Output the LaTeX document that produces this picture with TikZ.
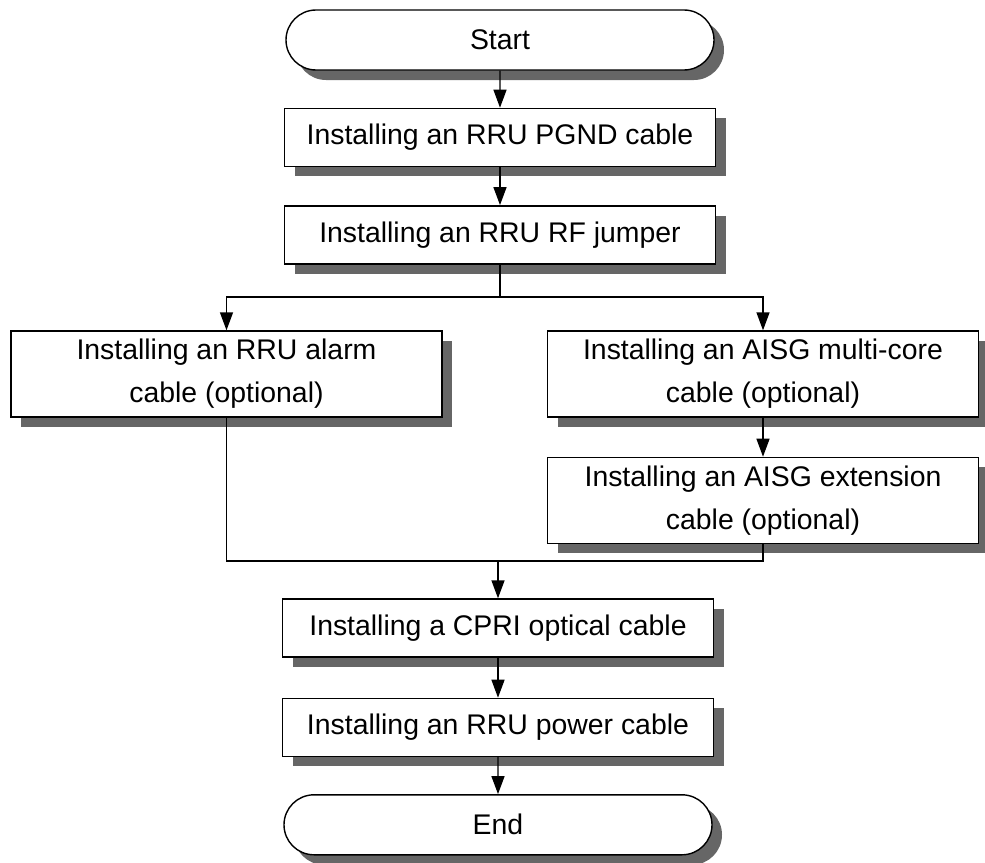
\documentclass[tikz,border=0pt]{standalone}
\usepackage{fontspec}
\setmainfont{Liberation Sans}
\usepackage{xcolor}
\usepackage{tikz}
\usetikzlibrary{shapes.misc,arrows.meta,positioning,calc,shadows}
\definecolor{shadowGray}{RGB}{102,102,102}

\tikzset{
    boxshadow/.style={drop shadow={shadow xshift=5pt, shadow yshift=-5pt, fill=shadowGray, opacity=1}},
    process/.style={rectangle, draw, fill=white, boxshadow, minimum width=215.5pt, minimum height=29pt, align=center, inner sep=0pt},
    optional/.style={process, minimum height=43pt},
    terminal/.style={rounded rectangle, draw, fill=white, boxshadow, minimum width=214pt, minimum height=30pt, inner sep=0pt}
}

\begin{document}
\begin{tikzpicture}[x=0.5pt, y=-0.5pt, line width=0.7pt, >={Triangle[length=9pt,width=6.5pt]},
    font=\fontsize{14.2}{21.5}\selectfont]
    \useasboundingbox (0,0) rectangle (985,862);

    \node [terminal] at (500,40) (start) {Start};
    \node [process, below=18.5pt of start] (pgnd) {Installing an RRU PGND cable};
    \node [process, below=19pt of pgnd] (rf) {Installing an RRU RF jumper};
    \node [optional] at (226.5,374) (alarm) {Installing an RRU alarm\\ cable (optional)};
    \node [optional] at (763,374) (multi) {Installing an AISG multi-core\\ cable (optional)};
    \node [optional, below=19.5pt of multi] (ext) {Installing an AISG extension\\ cable (optional)};
    \node [process] at (498,628) (cpri) {Installing a CPRI optical cable};
    \node [process, below=20pt of cpri] (power) {Installing an RRU power cable};
    \node [terminal, below=18.5pt of power] (end) {End};

    \coordinate (split) at (rf.south |- 0,297);
    \coordinate (join) at (cpri.north |- 0,561);

    \draw [->] (start) -- (pgnd);
    \draw [->] (pgnd) -- (rf);
    \draw (rf.south) -- (split);
    \draw [->] (split) -| (alarm.north);
    \draw [->] (split) -| (multi.north);
    \draw [->] (multi) -- (ext);
    \draw (alarm.south) |- (join);
    \draw (ext.south) |- (join);
    \draw [->] (join) -- (cpri);
    \draw [->] (cpri) -- (power);
    \draw [->] (power) -- (end);
\end{tikzpicture}
\end{document}
